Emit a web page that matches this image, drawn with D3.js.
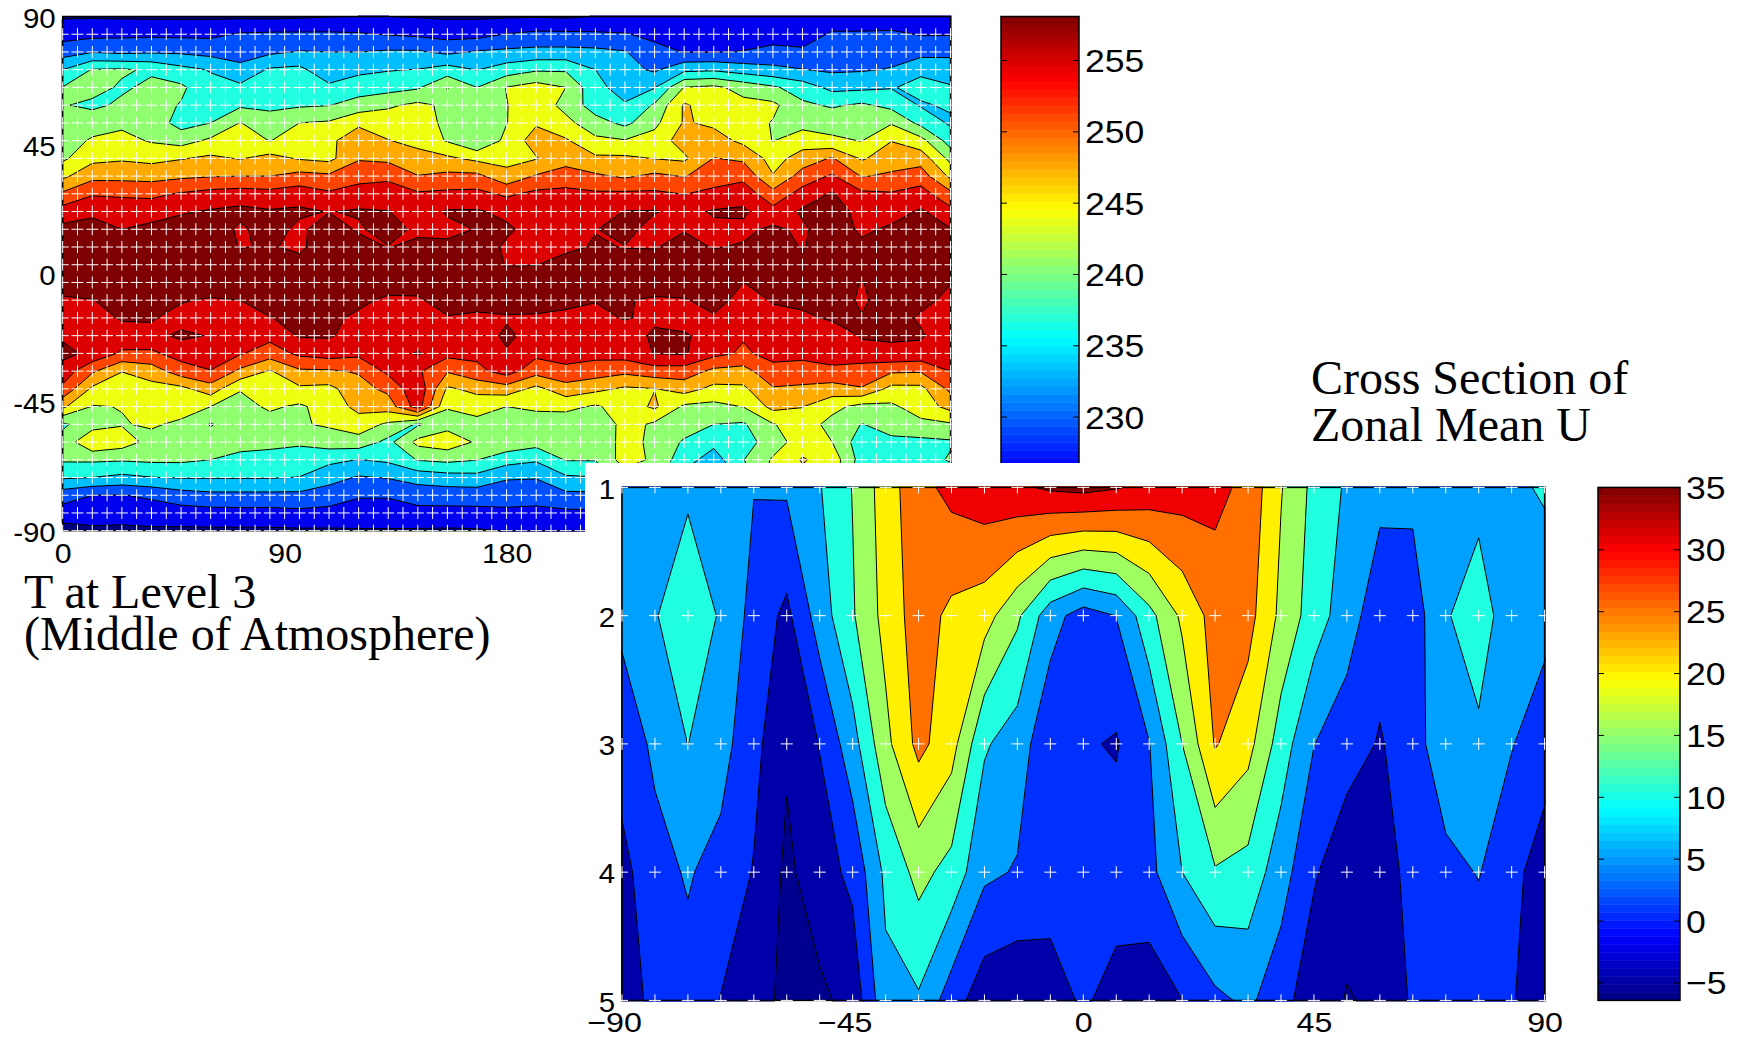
<!DOCTYPE html>
<html>
<head>
<meta charset="utf-8">
<script src="https://cdn.jsdelivr.net/npm/d3@7"></script>
<style>
    html, body { margin: 0; padding: 0; background: #fff; }
    svg { display: block; }
    .tick text { font-family: "Liberation Sans", sans-serif; fill: #000; }
    .title { font-family: "Liberation Serif", serif; fill: #000; }
</style>
</head>
<body>
<div id="chart"></div>
<script>
// temperature at level 3, one array per longitude (0, 12, ... 360), each from 90 down to -90
const tempByLon = [
    [225,227.2,230.3,235.1,238.5,238.6,239.5,240,241,244.2,248.7,253,255.5,256.5,257,257,254,253,254.3,255.5,253.5,250.8,245.5,237.9,239.5,238.8,235.5,230,227,224],
    [225,227.6,231.6,238.6,239.4,237.8,240.1,242,244,247.2,251.2,254,256,257,257,256.5,254.6,253.3,254.2,254,248.7,244.3,241.4,240.2,244.5,238.9,235.1,228.5,226.8,224.7],
    [224.9,227.8,231.1,238.8,238,238.9,240.9,242.6,244.5,247.2,251,253.4,254.7,256,257,257,256,255,253.5,251,245,243,241.7,241.4,243.2,238.7,234.3,228.4,226.7,224.6],
    [224.8,227.9,231.4,238,239,239.6,240.2,241.3,244,247,250.8,253.4,255.5,256.5,257,257,256,255,253.8,250.9,246.5,243.7,243,242,240.5,239,235,229,227,224.8],
    [224.8,227.8,231.3,236.1,239,238.2,237.2,240.3,244.7,247.6,251.8,254.4,256,256.5,257,257,255,253.5,255.3,252.8,250,244,243,241,240,239,235.3,230.4,227,224.8],
    [224.8,227.8,230.7,234.9,236,237,238.4,242.2,245.5,248,252.6,255,256.5,257,257,257,254.3,253.5,254.5,253,251.4,246.7,241.6,238.2,239.5,238.4,235.3,231,227.3,224.8],
    [224.8,228.8,230.3,232.8,235.8,237.9,241.7,243.3,244.7,248.2,253,255.5,254.2,254.5,257,257,254.7,253.5,253.5,251.8,247.5,241.8,240.5,240,239.5,237.5,235.3,231,227.4,224.8],
    [224.7,229,231.2,235.5,236.3,237.7,239.8,241.5,246,248.2,252.6,255,256,255,257,257,256,254.6,252.5,249.8,244.6,243.7,242.1,240.3,239.4,237,235.3,231,227.4,224.8],
    [224.9,229,232,235.9,236.9,238,241.6,243.1,244.6,249.3,253.3,255.2,254,254,256,257,256.5,255.5,255,252.2,247.7,244.3,241.1,241.3,238.7,237.4,235,231,227.7,224.9],
    [225.2,229,231.8,232.8,235.8,238.3,242,244.2,244,248.8,252,254.6,256.5,257,257,257,256.5,255.5,255,253,247.8,244,243,242,240,235.9,233,230.2,227.5,224.9],
    [225.3,228.8,231.8,234.3,236.9,239.7,244.3,246.8,247.9,250.3,253,255,254.3,256,257,257,255.5,254,253.5,252.3,248.5,247,245.9,243.3,240.3,235,231.5,228.7,227.5,225],
    [225.3,228.3,232.2,234.9,237.2,241.1,243.5,245,247.4,250.9,252.9,254.8,256,254.6,256,256.5,254,253.7,253.5,253,252.3,249,246.5,241,237.5,235.7,232,228.7,227.5,225],
    [225.1,227.9,232.2,235.2,238,242.3,243.8,244,246,248.3,251.9,253.2,254,255.5,257,256,254.3,253.6,253.3,255,252,254,253,238,242.5,238.6,233,230,227.4,225],
    [224.9,227.3,231.1,236.5,241.7,241,240.5,241.3,245.5,249,252.2,255,254,255.3,257,257,256,254.5,253.2,252.5,248.5,244.4,241.8,240.5,243.5,239.2,233.7,230,227.5,224.9],
    [224.9,227.4,232.1,235,238.4,239,239.8,238.3,244.1,249,252.4,255,254.8,256.5,257,257,255.7,254.2,253,252.3,250.6,245.8,243,240.5,241.2,238.5,234,230,227.6,225],
    [225,228.6,232.5,236.7,241.7,241.5,241.5,242.5,243.9,245.9,250.9,254,255.2,254.2,254.5,257,256,254.4,255.3,254.4,253,246.7,241.6,239.8,240.8,236.4,232.1,230,227.8,225.4],
    [225.1,229.2,232.8,238,243,243.5,244.5,246.5,244.7,248.5,252.3,254.5,253.5,253.5,254.6,257,256,254.3,253.5,252.3,249.5,244,242,240.5,239.7,235.5,232,229.4,227.9,225.7],
    [224.9,229.2,232.8,238,241.6,240.6,242.5,245.3,246.8,249.8,252.4,253.5,253.3,254,256,257,255.5,254,253.3,252.8,250.7,246.8,242.5,239.5,238.9,238.6,234.6,231,227.8,226],
    [225.4,229,232.6,235.1,236,236.8,239.7,242.3,245.5,248.7,252,253.5,254.6,255,256.5,257,254.9,253.5,254.8,252.5,249.9,245.7,241.2,238.4,238.6,238.6,235,231,228,226],
    [225.4,228.7,232,232.9,233.8,235.4,237.6,241.8,245.5,247.7,252.1,254.8,255.7,254.6,256,257,255,255,252.5,253,249,244.4,243,243,243,243,240,236,231,227],
    [226,227.7,229.5,231.3,234.9,238.8,240.8,242.9,244.8,248.9,252.1,254.9,253.5,254.5,256.3,257,254.1,253.8,255.5,254.8,250.1,244.8,245.5,241,240.7,241,239,235,230,226],
    [226,227.3,228.4,234.3,241.7,245.3,245.2,246.5,244.3,248,251.4,253.8,254.5,255.8,257,257,254.4,252.8,255.2,255,250,246.3,241,240,238,236.5,234,231,228,226],
    [225.9,227.2,228.4,234.6,242.3,243.3,244.3,246.3,248.3,250,252.3,255,254.1,254.5,256.5,257,256,254.3,253,252.5,247.4,244,240.7,238.4,236,233.5,232,230,228,226],
    [225.8,227.3,228.6,233.5,240.5,242.5,243,244.1,247.6,250.6,253.4,255.2,254,255,257,254.7,253.5,252.9,251.8,251,247,244.3,241.7,238,237,238.3,236,232,228.5,226],
    [225.5,227,229.5,232.6,238.9,242.3,241.4,241.5,243.6,245.1,249.3,252.6,255.3,257,257,256,254.9,254,253.4,252.5,250.5,247.9,245.9,241.4,240,242,243,238,231,226],
    [225.4,226.5,229.2,231.9,236.8,239,240.5,243.3,246.4,249.6,252.8,255.2,254.1,254.4,256.5,257,255.6,254,253,252.4,250.1,247.6,245,243.3,243.3,245.2,244,238,231,226],
    [226,229,230.4,231.3,234.2,238,240.5,242.1,248.5,251.9,255,256.5,257,257,257,257,257,255.2,252.5,252.5,251,246.7,242.6,240.5,241.6,243.5,243,238,231,226],
    [226,229,230.6,231.5,234.4,238.9,240,241.5,244.5,248,252.2,253.4,254,255.5,257,254.5,254,254.9,255,253.5,249.9,248,240.5,238.3,236.5,237,235,232,229,226],
    [226,229.2,230.5,232,234.9,237.5,241.3,244.8,246.7,248.7,251.8,253.3,255.3,256.5,257,257,257,256,255,254.2,248.7,243.9,241,239.5,237.8,237.5,235,232,229,226],
    [226,228.3,230.6,234.5,236,234.8,237.5,242.7,246.8,249.8,252.9,255.1,256.4,257,257,257,255.5,254.3,255,253.8,248.5,244,243.2,240.8,237.6,236.7,235,232,229,226],
    [226,228.3,231,233.5,235.4,235.5,234.6,236.9,240.6,244.2,249,252.5,254.9,256,257,254.8,254,253.5,253,252.5,251.6,249,246,241.2,238,238.8,236,232,229,226]
]
const tempLevels = [225.3, 228.5, 231.8, 235.1, 238.4, 241.6, 244.9, 248.2, 251.5, 254.7]
const tempColors = ["#00007f", "#0000ee", "#0050ff", "#00bfff", "#20ffdf", "#90ff70", "#eeff10", "#ffaa00", "#ff4500", "#dd0000", "#7f0000"]
const tempLons = d3.range(0, 361, 12)
const tempLats = d3.range(30).map(i => 90 - i * 180 / 29)
const crossLonsTop = d3.range(0, 361, 6)
const crossLatsTop = tempLats.slice(1)
const tempXTicks = [0, 90, 180]
const tempYTicks = [90, 45, 0, -45, -90]
const tempBarTicks = [230, 235, 240, 245, 250, 255]
const tempBarRange = [222, 258.05]

// zonal mean U, one array per latitude (-90 ... 90), each from level 1 down to level 5
const zonalByLat = [
    [7,6,2.5,-1.7,-3],
    [8,9.8,5.8,3.6,1.55],
    [9.5,11.9,10.05,5.4,3.5],
    [7.5,9.7,6.9,3.4,-0.2],
    [5.2,3.1,1.5,-0.3,-2.5],
    [5.7,-1.2,-4.3,-6,-6.5],
    [9.7,7.35,0.2,-2.3,-6],
    [15.2,14.5,8,1.25,-3.4],
    [22.5,21.7,18.6,11.1,8.65],
    [28.3,27.5,26.4,16.6,9.4],
    [31.5,23.8,22,13.25,2.4],
    [33.2,22.1,10.6,6,-3.1],
    [34.2,15.9,7.5,4.6,-4],
    [35.8,7,1.25,2.8,-2.6],
    [36.5,2.7,0.6,3,0.8],
    [35.4,5.1,-0.5,3,-2.2],
    [33.5,13.4,4.8,3.5,-2.9],
    [32.5,21,15,10,-0.1],
    [31.5,27,25.4,14.5,3.8],
    [28.6,26.85,21.7,13.2,6],
    [20.3,18.8,12.6,7.2,2],
    [13.6,12.5,5.1,0.6,-3.3],
    [9.3,7.3,2.3,-3.6,-5.2],
    [6.4,1.95,-0.4,-4,-4.5],
    [6.2,2.5,2.5,2.7,0.8],
    [7,9.4,8.9,3.3,1],
    [7.8,13.4,8.7,5.3,0.8],
    [9,6,5.3,1,0.5],
    [10.6,6.9,1.6,-1.7,-4]
]
const zonalLevels = [-5, 0, 5, 10, 15, 20, 25, 30, 35]
const zonalColors = ["#00008f", "#0000aa", "#0030ff", "#00a0ff", "#20ffe0", "#a0ff60", "#fff000", "#ff7000", "#f00000", "#800000"]
const zonalLats = d3.range(29).map(i => -90 + i * 180 / 28)
const zonalRows = [1, 2, 3, 4, 5]
const zonalXTicks = [-90, -45, 0, 45, 90]
const zonalBarTicks = [-5, 0, 5, 10, 15, 20, 25, 30, 35]
const zonalBarRange = [-6.45, 35]

const width = 1741
const height = 1039
const barSteps = d3.range(64)

const svg = d3.select("#chart").append("svg")
    .attr("width", width)
    .attr("height", height)

function jet(v) {
    const c = t => Math.round(255 * Math.max(0, Math.min(1, 1.5 - Math.abs(4 * v - t))))
    return d3.rgb(c(3), c(2), c(1)).formatHex()
}

// the labels in the picture are a bit wider than the font
function styleLabels(sel, size, stretch) {
    sel.attr("font-size", size)
        .attr("lengthAdjust", "spacingAndGlyphs")
        .attr("textLength", function () { return this.getComputedTextLength() * stretch })
}

function drawField(opts) {
    const { id, columns, xs, ys, levels, colors, x, y } = opts
    const nx = xs.length
    const ny = ys.length
    // d3.contours wants it row by row
    const flat = []
    for (let j = 0; j < ny; j++) {
        for (let i = 0; i < nx; i++) flat.push(columns[i][j])
    }
    const contours = d3.contours().size([nx, ny]).thresholds(levels)(flat)

    const xi = d3.scaleLinear().domain([0.5, nx - 0.5]).range([x(xs[0]), x(xs[nx - 1])])
    const yi = d3.scaleLinear().domain([0.5, ny - 0.5]).range([y(ys[0]), y(ys[ny - 1])])
    const path = d3.geoPath(d3.geoTransform({
        point(px, py) { this.stream.point(xi(px), yi(py)) }
    }))

    const [x0, x1] = x.range()
    const [y0, y1] = y.range()
    svg.append("clipPath").attr("id", id)
        .append("rect")
        .attr("x", x0 - 1).attr("y", y0 - 1)
        .attr("width", x1 - x0 + 2).attr("height", y1 - y0 + 2)

    const g = svg.append("g").attr("clip-path", `url(#${id})`)
    g.append("rect")
        .attr("x", x0).attr("y", y0)
        .attr("width", x1 - x0).attr("height", y1 - y0)
        .attr("fill", colors[0])
    g.selectAll(".band").data(contours).enter()
        .append("path")
        .attr("class", "band")
        .attr("d", path)
        .attr("fill", (d, i) => colors[i + 1])
        .attr("stroke", "#000")
        .attr("stroke-width", 1)

    svg.append("rect")
        .attr("x", x0).attr("y", y0)
        .attr("width", x1 - x0).attr("height", y1 - y0)
        .attr("fill", "none")
        .attr("stroke", "#000")
        .attr("stroke-width", 1.5)

    // grid point crosses go over the frame, that is what makes it look dashed
    const crosses = svg.append("g").attr("clip-path", `url(#${id})`)
    opts.crossX.forEach(cx => {
        opts.crossY.forEach(cy => {
            crosses.append("path")
                .attr("d", `M${x(cx) - 6},${y(cy)}H${x(cx) + 6}M${x(cx)},${y(cy) - 6}V${y(cy) + 6}`)
                .attr("stroke", "#fff")
                .attr("stroke-width", 1)
                .attr("fill", "none")
        })
    })
}

function drawBar(x0, x1, y, range, ticks) {
    const step = (range[1] - range[0]) / barSteps.length
    svg.append("g").selectAll("rect").data(barSteps).enter()
        .append("rect")
        .attr("x", x0)
        .attr("width", x1 - x0)
        .attr("y", d => y(range[0] + (d + 1) * step))
        .attr("height", d => y(range[0] + d * step) - y(range[0] + (d + 1) * step) + 0.5)
        .attr("fill", d => jet((d + 0.5) / barSteps.length))
    svg.append("rect")
        .attr("x", x0).attr("y", y.range()[1])
        .attr("width", x1 - x0).attr("height", y.range()[0] - y.range()[1])
        .attr("fill", "none").attr("stroke", "#000").attr("stroke-width", 1.5)
    const axis = svg.append("g")
        .attr("transform", `translate(${x1},0)`)
        .call(d3.axisRight(y).tickValues(ticks).tickSize(-6).tickPadding(6))
    axis.select(".domain").remove()
    axis.selectAll(".tick text").attr("dy", "0.36em").call(styleLabels, 32, 1.11)
    axis.selectAll(".tick").append("line").attr("x1", -(x1 - x0)).attr("x2", -(x1 - x0) + 6).attr("stroke", "#000")
}

function addAxes(x, y, xTicks, yTicks, xFormat, yFormat, xSize, xStretch, xNudge) {
    const [, y1] = y.range()
    const [x0] = x.range()
    const bottom = svg.append("g")
        .attr("transform", `translate(0,${y1})`)
        .call(d3.axisBottom(x).tickValues(xTicks).tickSize(0).tickPadding(12).tickFormat(xFormat))
    bottom.select(".domain").remove()
    bottom.selectAll("text")
        .attr("dx", d => d < 0 ? xNudge : 0)
        .call(styleLabels, xSize, xStretch)
    const left = svg.append("g")
        .attr("transform", `translate(${x0},0)`)
        .call(d3.axisLeft(y).tickValues(yTicks).tickSize(0).tickPadding(7).tickFormat(yFormat))
    left.select(".domain").remove()
    left.selectAll("text").attr("dy", "0.38em").call(styleLabels, 28, 1.05)
}

// top map
const xTop = d3.scaleLinear().domain([0, 360]).range([62.7, 950.5])
const yTop = d3.scaleLinear().domain([90, -90]).range([16.5, 530.7])
drawField({
    id: "clipTop", columns: tempByLon, xs: tempLons, ys: tempLats,
    levels: tempLevels, colors: tempColors, x: xTop, y: yTop,
    crossX: crossLonsTop, crossY: crossLatsTop
})
addAxes(xTop, yTop, tempXTicks, tempYTicks, d => String(d), d => String(d), 28, 1.08, 0)

const yTopBar = d3.scaleLinear().domain(tempBarRange).range([530.7, 16.5])
drawBar(1001, 1079, yTopBar, tempBarRange, tempBarTicks)

svg.append("text").attr("class", "title").attr("x", 24).attr("y", 608).attr("font-size", 48).text("T at Level 3")
svg.append("text").attr("class", "title").attr("x", 24).attr("y", 650).attr("font-size", 48).text("(Middle of Atmosphere)")

// the second figure is pasted over the first with a white background
svg.append("rect").attr("x", 585).attr("y", 463).attr("width", width - 585).attr("height", height - 463).attr("fill", "#fff")

svg.append("text").attr("class", "title").attr("x", 1311).attr("y", 394).attr("font-size", 48).text("Cross Section of")
svg.append("text").attr("class", "title").attr("x", 1311).attr("y", 441).attr("font-size", 48).text("Zonal Mean U")

// cross section
const xLow = d3.scaleLinear().domain([-90, 90]).range([622, 1544.6])
const yLow = d3.scaleLinear().domain([1, 5]).range([487.4, 1000.4])
drawField({
    id: "clipLow", columns: zonalByLat, xs: zonalLats, ys: zonalRows,
    levels: zonalLevels, colors: zonalColors, x: xLow, y: yLow,
    crossX: zonalLats, crossY: zonalRows
})
addAxes(xLow, yLow, zonalXTicks, zonalRows, d3.format("d"), d3.format("d"), 28, 1.15, -8)

const yLowBar = d3.scaleLinear().domain(zonalBarRange).range([1000.4, 487.4])
drawBar(1598, 1680, yLowBar, zonalBarRange, zonalBarTicks)
</script>
</body>
</html>
